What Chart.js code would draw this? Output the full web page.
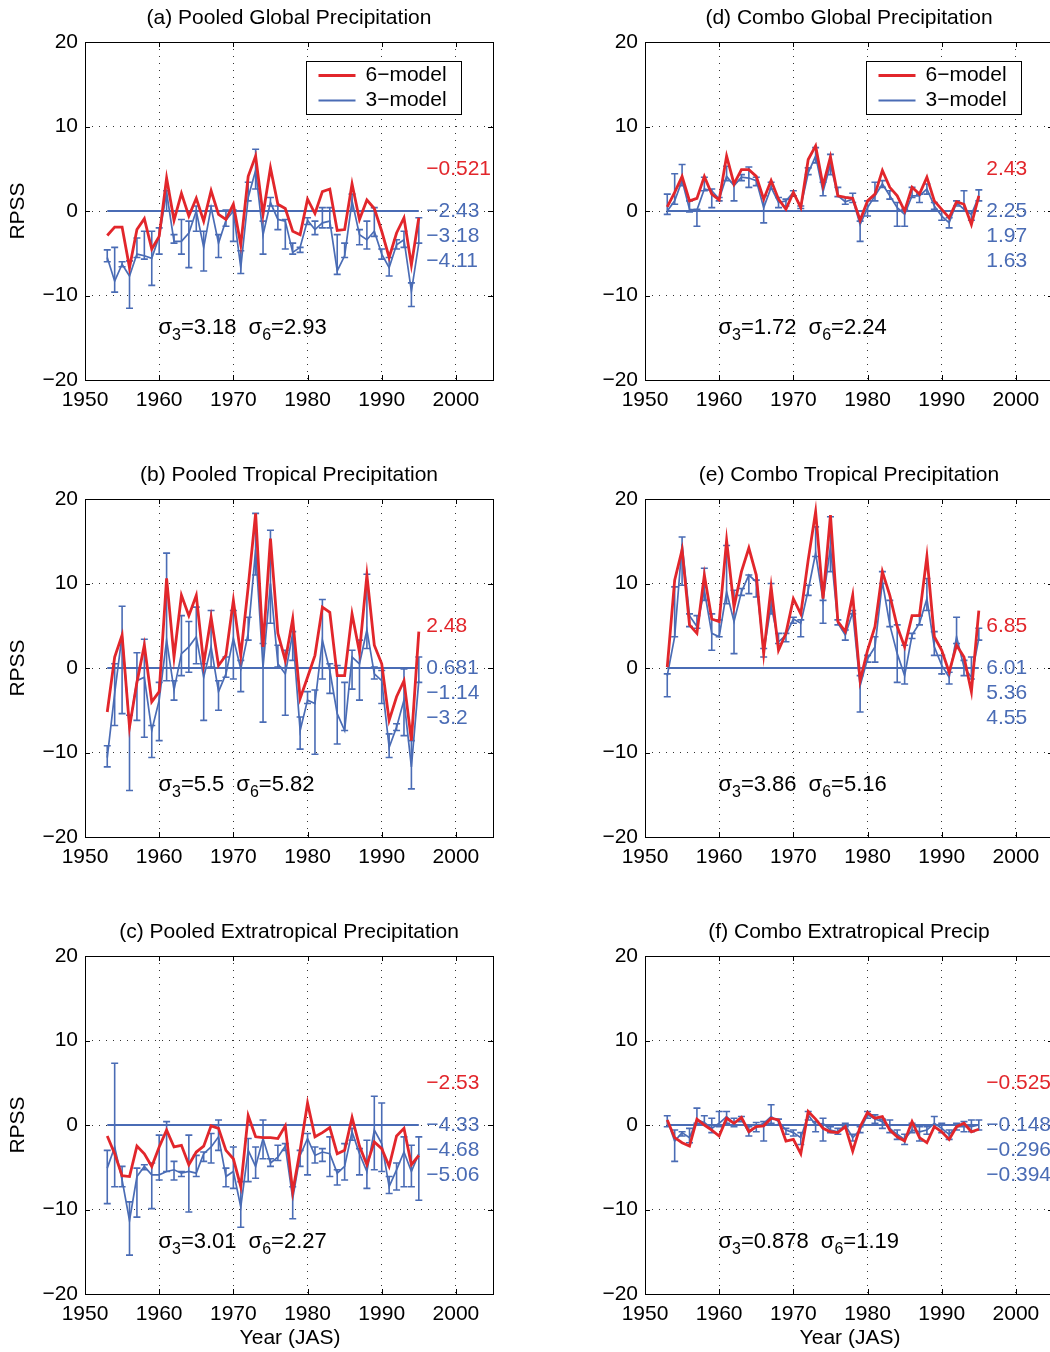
<!DOCTYPE html>
<html><head><meta charset="utf-8">
<script src="https://cdn.jsdelivr.net/npm/chart.js@4.4.0/dist/chart.umd.min.js"></script>
<style>
html,body{margin:0;padding:0;background:#fff;overflow:hidden;width:1050px;height:1352px;position:relative;}
canvas{position:absolute;}
</style></head><body>
<canvas id="ca" width="508" height="440" style="left:5px;top:0px"></canvas>
<canvas id="cb" width="508" height="440" style="left:5px;top:457px"></canvas>
<canvas id="cc" width="508" height="440" style="left:5px;top:914px"></canvas>
<canvas id="cd" width="508" height="440" style="left:565px;top:0px"></canvas>
<canvas id="ce" width="508" height="440" style="left:565px;top:457px"></canvas>
<canvas id="cf" width="508" height="440" style="left:565px;top:914px"></canvas>
<script>
// ---------- DATA ----------
const years = [1953,1954,1955,1956,1957,1958,1959,1960,1961,1962,1963,1964,1965,1966,1967,1968,1969,1970,1971,1972,1973,1974,1975,1976,1977,1978,1979,1980,1981,1982,1983,1984,1985,1986,1987,1988,1989,1990,1991,1992,1993,1994,1995];
const xTicks = [1950,1960,1970,1980,1990,2000];
const yTicks = [-20,-10,0,10,20];

// (a) Pooled Global
const aRed  = [-2.9,-1.9,-1.9,-6.7,-2.2,-0.9,-4.5,-3.0,3.9,-1.1,2.1,-0.6,1.5,-1.2,2.4,-0.4,-1.0,0.8,-4.0,4.1,6.5,-0.4,5.1,0.8,0.3,-2.4,-2.8,1.4,-0.3,2.3,2.6,-2.3,-2.2,3.2,-1.0,1.3,0.3,-2.4,-5.5,-2.6,-0.8,-6.4,-0.8];
const aBlue = [-5.5,-8.3,-6.3,-7.7,-5.1,-5.3,-5.6,-3.0,2.2,-3.6,-3.6,-2.6,0.0,-4.3,0.4,-3.8,-1.1,0.0,-6.7,1.6,4.8,-2.8,1.0,-1.0,-1.2,-4.9,-4.3,-1.1,-2.2,-1.4,-1.2,-7.1,-5.3,1.2,-2.8,-3.4,-2.4,-5.1,-6.7,-4.0,-3.4,-9.5,-3.8];
const aHi   = [-4.6,-4.3,-6.0,-5.9,-3.2,-2.4,-2.4,-2.0,2.4,-2.8,-1.0,-1.2,0.6,-2.4,0.6,-2.8,0.1,0.1,-4.7,3.4,7.3,-1.2,1.6,0.6,-1.0,-3.8,-4.3,-0.8,-1.2,0.4,0.4,-2.8,-3.8,2.0,-2.2,-1.2,0.4,-4.5,-5.5,-3.4,-2.4,-8.5,-0.8];
const aLo   = [-6.0,-9.6,-6.6,-11.5,-5.5,-5.7,-8.8,-5.1,0.0,-3.8,-5.1,-6.7,-2.4,-7.1,0.0,-5.5,-1.8,-3.6,-7.4,1.2,2.6,-5.1,0.6,-2.2,-4.5,-5.1,-4.9,-1.6,-2.8,-2.0,-2.0,-7.5,-5.5,0.0,-4.0,-4.5,-3.0,-5.7,-7.7,-4.5,-4.3,-11.3,-3.8];
const aNotes = ['\u22120.521','\u22122.43','\u22123.18','\u22124.11'];
const aSigma = ['3.18','2.93'];

// (b) Pooled Tropical
const bRed  = [-5.2,1.3,3.9,-7.0,-1.7,2.7,-4.0,-2.8,10.6,1.3,8.6,6.2,8.6,0.5,6.0,0.3,1.5,8.0,1.5,9.6,18.3,2.5,15.3,4.1,0.9,5.8,-3.6,-1.1,1.5,7.2,6.6,-0.9,-0.9,6.4,1.9,11.0,2.7,0.5,-6.2,-3.4,-1.5,-8.6,4.3];
const bBlue = [-10.6,-3.0,3.9,-7.0,-1.5,-1.1,-7.4,-3.8,3.3,-2.6,1.7,2.5,3.7,-1.1,2.5,-2.8,-0.7,3.5,-0.1,4.1,14.0,0.1,10.0,0.5,-0.7,4.1,-7.4,-3.8,-4.2,3.3,-0.3,-5.4,-7.4,1.3,0.5,4.5,-0.7,-1.5,-9.4,-7.0,-3.8,-11.7,-1.5];
const bHi   = [-9.2,0.5,7.3,-5.6,1.8,3.4,-6.8,-1.7,13.6,-1.5,6.2,5.5,7.2,0.5,6.8,-1.5,1.3,6.8,0.9,6.0,18.3,2.9,16.3,2.7,2.1,4.3,-5.8,-2.8,-2.6,8.1,0.5,0.3,-1.7,2.1,3.3,11.1,0.1,-0.3,-7.8,-6.6,-0.1,-8.6,1.3];
const bLo   = [-11.7,-6.8,-5.4,-14.5,-6.2,-8.2,-10.6,-8.6,-1.5,-3.8,-0.9,-0.5,0.5,-6.2,0.1,-5.0,-1.1,-1.3,-2.8,3.3,11.0,-6.4,5.3,0.1,-5.6,0.9,-9.6,-4.2,-10.2,-1.3,-3.0,-9.0,-7.4,-2.5,-3.8,2.3,-1.3,-4.2,-10.6,-7.4,-8.0,-14.3,-1.7];
const bNotes = ['2.48','0.681','\u22121.14','\u22123.2'];
const bSigma = ['5.5','5.82'];

// (c) Pooled Extratropical
const cRed  = [-1.3,-3.4,-6.0,-6.1,-2.5,-3.4,-4.9,-2.6,-0.6,-2.6,-2.4,-4.7,-3.2,-2.5,-0.1,-0.4,-3.0,-4.0,-7.3,1.1,-1.4,-1.5,-1.5,-1.6,-0.1,-7.9,-3.0,2.6,-1.4,-0.9,-0.3,-3.4,-3.0,0.9,-2.5,-4.7,-2.0,-2.8,-4.9,-1.3,-0.4,-4.7,-3.6];
const cBlue = [-5.1,-2.6,-6.5,-11.3,-6.1,-4.9,-5.9,-5.9,-5.5,-5.3,-5.7,-5.5,-5.7,-3.4,-2.6,-1.4,-6.1,-5.5,-9.7,-3.0,-4.9,-1.6,-4.5,-3.8,-2.5,-8.7,-3.6,-1.6,-3.6,-3.2,-3.4,-5.7,-4.9,-0.8,-3.4,-5.5,-0.6,-2.2,-7.3,-5.3,-3.2,-5.5,-3.4];
const cHi   = [-3.0,7.3,-4.9,-9.1,-5.1,-4.7,-4.5,-1.2,0.4,-4.3,-5.5,-1.2,-3.6,-3.2,-1.0,0.6,-5.1,-2.6,-6.7,-1.6,-2.6,0.6,-4.0,-2.4,-2.2,-7.3,-3.0,-1.0,-2.6,-2.8,-1.4,-5.3,-2.2,-0.4,-2.8,-1.8,3.4,2.6,-6.1,-4.5,-1.4,-2.4,-1.4];
const cLo   = [-9.3,-7.3,-7.3,-15.4,-10.9,-5.3,-9.9,-6.5,-5.5,-6.5,-6.1,-10.3,-6.1,-4.3,-4.5,-3.0,-7.3,-7.5,-12.1,-6.7,-6.3,-4.0,-4.9,-4.2,-3.0,-11.1,-4.9,-5.9,-4.5,-4.3,-6.1,-7.1,-6.5,-1.8,-5.9,-7.5,-5.3,-5.5,-8.1,-7.7,-7.3,-7.3,-8.9];
const cNotes = ['\u22122.53','\u22124.33','\u22124.68','\u22125.06'];
const cSigma = ['3.01','2.27'];

// (d) Combo Global
const dRed  = [0.5,2.2,4.1,1.2,1.5,4.1,2.0,1.3,6.5,3.2,4.9,4.9,4.1,1.4,3.6,1.4,0.2,2.2,0.4,6.1,7.7,3.0,6.4,1.8,1.6,1.5,-1.1,1.2,2.0,4.8,2.8,1.8,0.0,2.8,2.0,4.0,1.2,0.2,-0.8,1.1,0.8,-1.6,1.8];
const dBlue = [0.0,1.2,3.6,0.2,0.1,2.6,2.4,1.4,4.1,3.0,4.0,3.9,3.6,0.4,2.8,1.0,1.2,2.2,0.5,4.5,6.5,2.3,5.5,1.8,1.1,1.4,-1.6,0.4,1.8,3.2,1.8,0.4,-0.4,1.8,1.8,2.6,0.6,-0.6,-1.4,1.0,0.2,-0.4,1.7];
const dHi   = [2.0,4.4,5.5,1.2,0.2,4.0,2.6,1.6,5.3,3.4,4.3,5.2,4.0,1.8,3.4,1.6,1.4,2.4,0.6,5.1,7.5,3.4,6.7,2.8,1.6,2.1,-1.2,1.2,3.4,3.6,2.4,1.0,0.2,2.8,2.0,3.2,1.0,0.0,-0.8,1.2,2.4,0.0,2.5];
const dLo   = [-0.4,0.8,3.0,-0.1,-1.8,2.4,0.4,1.2,3.6,1.2,3.6,2.8,3.0,-1.4,2.6,0.4,0.6,1.8,0.3,4.3,5.7,1.8,4.3,1.7,0.8,1.0,-3.6,-0.6,1.2,2.8,1.4,-1.8,-1.8,1.6,1.0,2.0,0.2,-1.1,-2.0,0.6,0.0,-1.1,1.2];
const dNotes = ['2.43','2.25','1.97','1.63'];
const dSigma = ['1.72','2.24'];

// (e) Combo Tropical
const eRed  = [0.1,10.4,14.0,5.1,4.1,11.0,5.8,5.5,15.1,7.2,11.4,14.2,11.0,1.7,9.6,2.1,4.1,8.2,6.4,12.8,18.5,8.2,18.1,5.5,4.3,8.6,-1.5,2.1,4.9,11.4,8.6,4.9,2.5,6.2,6.2,13.2,3.7,2.1,-0.5,2.7,1.3,-2.8,6.8];
const eBlue = [-0.9,3.7,14.7,6.2,4.9,9.2,4.1,3.7,9.0,5.5,9.0,11.0,10.2,1.9,7.4,3.1,3.9,5.8,5.3,9.2,13.6,8.0,14.3,5.3,3.9,6.6,-2.1,1.1,2.5,10.2,5.1,1.7,-0.9,3.9,5.3,8.2,2.5,0.3,-1.1,3.7,0.1,-1.1,3.5];
const eHi   = [-0.7,9.6,15.5,6.4,6.2,11.8,6.4,5.7,14.5,9.2,9.4,11.0,10.4,2.3,10.0,4.1,4.1,6.0,5.7,9.8,16.7,8.0,17.9,5.7,4.5,6.8,-0.9,1.5,3.7,11.4,8.0,5.1,2.7,4.1,6.2,10.6,4.3,1.5,-0.5,6.0,0.9,1.3,4.7];
const eLo   = [-3.4,3.7,9.8,4.9,4.7,8.0,2.1,3.7,7.6,1.7,8.6,8.8,8.4,1.3,6.4,2.9,3.1,5.3,3.7,8.6,13.2,5.3,11.4,5.1,3.3,6.4,-5.2,0.7,0.7,10.0,4.9,-1.7,-1.9,3.5,5.1,6.8,1.5,-0.7,-1.9,2.9,-0.9,-1.3,3.3];
const eNotes = ['6.85','6.01','5.36','4.55'];
const eSigma = ['3.86','5.16'];

// (f) Combo Extratropical
const fRed  = [0.6,-1.5,-2.1,-2.5,0.7,0.0,-0.6,-1.3,0.8,0.2,0.9,-0.8,-0.2,-0.1,0.8,0.6,-1.9,-1.7,-3.4,1.6,0.7,-0.4,-0.8,-0.9,-0.2,-3.1,-0.2,1.5,0.8,1.0,-0.6,-1.4,-1.9,0.4,-1.5,-2.1,-0.2,-0.8,-1.7,-0.2,0.2,-0.8,-0.5];
const fBlue = [0.6,-1.9,-0.9,-1.5,0.6,0.3,-0.4,0.2,1.0,0.2,0.7,-0.9,-0.2,0.2,1.0,0.4,-0.6,-0.9,-1.5,1.2,0.0,0.2,-0.6,-0.8,0.0,-1.5,-0.6,1.2,0.7,0.4,-0.4,-1.1,-1.7,-0.6,-0.8,-0.6,0.2,-0.4,-1.1,-0.2,-0.2,-0.2,0.0];
const fHi   = [1.1,-0.6,-0.8,-0.4,2.0,1.1,0.8,1.6,1.6,0.8,1.0,-0.2,0.3,0.4,2.4,0.7,-0.4,-0.6,-0.9,1.6,0.4,0.8,-0.2,-0.4,0.2,-1.1,-0.2,1.6,1.2,0.7,0.6,-0.6,-1.1,0.2,-0.2,-0.2,1.0,0.2,-0.6,0.2,0.4,0.6,0.6];
const fLo   = [-0.2,-4.3,-1.3,-2.1,0.2,0.0,-0.9,-0.2,0.2,-0.2,0.4,-1.3,-0.8,-1.9,0.2,0.0,-1.1,-1.3,-2.3,0.6,-0.8,-1.9,-0.9,-1.1,-0.2,-1.9,-0.9,0.8,0.2,-0.4,-0.9,-1.7,-2.3,-0.9,-1.9,-1.1,0.0,-0.9,-1.7,-0.6,-0.8,-0.8,-0.6];
const fNotes = ['\u22120.525','\u22120.148','\u22120.296','\u22120.394'];
const fSigma = ['0.878','1.19'];

// ---------- STYLE ----------
const RED = '#e2262b', BLUE = '#4a6cb5';
const FONT = '"Liberation Sans", Arial, Helvetica, sans-serif';
const FS = 21;

function fmtY(v){ return v < 0 ? '\u2212' + Math.abs(v) : String(v); }

const deco = {
  id: 'deco',
  afterDatasetDraw(chart, args) {
    if (args.index !== 1) return;
    const p = chart.config.options.plugins.deco;
    const ctx = chart.ctx, xs = chart.scales.x, ys = chart.scales.y;
    ctx.save();
    ctx.strokeStyle = BLUE; ctx.lineWidth = 1.6;
    years.forEach((yr, i) => {
      const x = xs.getPixelForValue(yr);
      const y1 = ys.getPixelForValue(p.hi[i]), y2 = ys.getPixelForValue(p.lo[i]);
      ctx.beginPath();
      ctx.moveTo(x, y1); ctx.lineTo(x, y2);
      ctx.moveTo(x - 3.5, y1); ctx.lineTo(x + 3.5, y1);
      ctx.moveTo(x - 3.5, y2); ctx.lineTo(x + 3.5, y2);
      ctx.stroke();
    });
    ctx.restore();
  },
  afterDraw(chart) {
    const p = chart.config.options.plugins.deco;
    const ctx = chart.ctx, ca = chart.chartArea, xs = chart.scales.x, ys = chart.scales.y;
    ctx.save();
    // frame
    ctx.strokeStyle = '#000'; ctx.lineWidth = 1;
    ctx.strokeRect(Math.round(ca.left) + 0.5, Math.round(ca.top) + 0.5, Math.round(ca.right - ca.left), Math.round(ca.bottom - ca.top));
    // inward ticks
    ctx.beginPath();
    xTicks.forEach(v => { const x = Math.round(xs.getPixelForValue(v)) + 0.5;
      ctx.moveTo(x, ca.bottom); ctx.lineTo(x, ca.bottom - 5);
      ctx.moveTo(x, ca.top); ctx.lineTo(x, ca.top + 5); });
    yTicks.forEach(v => { const y = Math.round(ys.getPixelForValue(v)) + 0.5;
      ctx.moveTo(ca.left, y); ctx.lineTo(ca.left + 5, y);
      ctx.moveTo(ca.right, y); ctx.lineTo(ca.right - 5, y); });
    ctx.stroke();
    ctx.fillStyle = '#000';
    ctx.font = `${FS}px ${FONT}`;
    ctx.textAlign = 'center'; ctx.textBaseline = 'middle';
    // title
    ctx.fillText(p.title, (ca.left + ca.right) / 2, ca.top - 24);
    if (p.ylabel) {
      ctx.save(); ctx.translate(13, (ca.top + ca.bottom) / 2); ctx.rotate(-Math.PI / 2);
      ctx.fillText('RPSS', 0, 0); ctx.restore();
    }
    if (p.xlabel) ctx.fillText('Year (JAS)', (ca.left + ca.right) / 2 + 1, ca.bottom + 44);
    // notes
    ctx.textAlign = 'left';
    const noteY = [5, 0, -3, -6];
    p.notes.forEach((t, i) => {
      ctx.fillStyle = i === 0 ? RED : BLUE;
      ctx.fillText(t, xs.getPixelForValue(1996), ys.getPixelForValue(noteY[i]));
    });
    // sigma text
    ctx.fillStyle = '#000';
    let cx = xs.getPixelForValue(1959.9);
    const sy = ys.getPixelForValue(-13.8);
    const big = `22px ${FONT}`, small = `16px ${FONT}`;
    [['3', p.sigma[0]], ['6', p.sigma[1]]].forEach((s, k) => {
      ctx.font = big; ctx.fillText('\u03c3', cx, sy); cx += ctx.measureText('\u03c3').width;
      ctx.font = small; ctx.fillText(s[0], cx, sy + 8); cx += ctx.measureText(s[0]).width;
      ctx.font = big; const t = '=' + s[1]; ctx.fillText(t, cx, sy); cx += ctx.measureText(t).width + 12;
    });
    // legend
    if (p.legend) {
      const bx = Math.round(ca.left + 221) + 0.5, by = Math.round(ca.top + 19) + 0.5, bw = 155, bh = 53;
      ctx.fillStyle = '#fff'; ctx.fillRect(bx, by, bw, bh);
      ctx.strokeStyle = '#000'; ctx.lineWidth = 1; ctx.strokeRect(bx, by, bw, bh);
      ctx.lineWidth = 2.8; ctx.strokeStyle = RED;
      ctx.beginPath(); ctx.moveTo(bx + 12, by + 14); ctx.lineTo(bx + 49, by + 14); ctx.stroke();
      ctx.lineWidth = 1.8; ctx.strokeStyle = BLUE;
      ctx.beginPath(); ctx.moveTo(bx + 12, by + 39); ctx.lineTo(bx + 49, by + 39); ctx.stroke();
      ctx.fillStyle = '#000'; ctx.font = `${FS}px ${FONT}`;
      ctx.fillText('6\u2212model', bx + 59, by + 14);
      ctx.fillText('3\u2212model', bx + 59, by + 39);
    }
    ctx.restore();
  }
};

function panel(id, title, red, blue, hi, lo, notes, sigma, opts) {
  const pts = arr => years.map((y, i) => ({ x: y, y: arr[i] }));
  new Chart(document.getElementById(id), {
    type: 'line',
    data: { datasets: [
      { label: '6-model', data: pts(red), borderColor: RED, borderWidth: 2.8, pointRadius: 0, tension: 0, order: 0 },
      { label: '3-model', data: pts(blue), borderColor: BLUE, borderWidth: 1.7, pointRadius: 0, tension: 0, order: 1 },
      { label: 'zero', data: [{ x: years[0], y: 0 }, { x: years[years.length - 1], y: 0 }], borderColor: BLUE, borderWidth: 1.8, pointRadius: 0, order: 2 }
    ]},
    options: {
      responsive: false, animation: false, devicePixelRatio: 1,
      layout: { padding: { top: 42, right: 20, left: 0, bottom: 0 } },
      plugins: {
        legend: { display: false }, tooltip: { enabled: false }, title: { display: false },
        deco: { title, hi, lo, notes, sigma, legend: opts.legend, ylabel: opts.ylabel, xlabel: opts.xlabel }
      },
      scales: {
        x: {
          type: 'linear', min: 1950, max: 2005,
          afterBuildTicks: s => { s.ticks = xTicks.map(v => ({ value: v })); },
          afterFit: s => { s.height = 60; },
          grid: { color: '#333', lineWidth: 1, drawTicks: false },
          border: { display: false, dash: [1, 6] },
          ticks: { padding: 8, color: '#000', font: { family: FONT, size: FS }, maxRotation: 0, autoSkip: false, callback: v => String(v) }
        },
        y: {
          type: 'linear', min: -20, max: 20,
          afterBuildTicks: s => { s.ticks = yTicks.map(v => ({ value: v })); },
          afterFit: s => { s.width = 80; },
          grid: { color: '#333', lineWidth: 1, drawTicks: false },
          border: { display: false, dash: [1, 6] },
          ticks: { padding: 7, color: '#000', font: { family: FONT, size: FS }, callback: v => fmtY(v) }
        }
      }
    },
    plugins: [deco]
  });
}

panel('ca', '(a) Pooled Global Precipitation', aRed, aBlue, aHi, aLo, aNotes, aSigma, { legend: true, ylabel: true, xlabel: false });
panel('cb', '(b) Pooled Tropical Precipitation', bRed, bBlue, bHi, bLo, bNotes, bSigma, { legend: false, ylabel: true, xlabel: false });
panel('cc', '(c) Pooled Extratropical Precipitation', cRed, cBlue, cHi, cLo, cNotes, cSigma, { legend: false, ylabel: true, xlabel: true });
panel('cd', '(d) Combo Global Precipitation', dRed, dBlue, dHi, dLo, dNotes, dSigma, { legend: true, ylabel: false, xlabel: false });
panel('ce', '(e) Combo Tropical Precipitation', eRed, eBlue, eHi, eLo, eNotes, eSigma, { legend: false, ylabel: false, xlabel: false });
panel('cf', '(f) Combo Extratropical Precip', fRed, fBlue, fHi, fLo, fNotes, fSigma, { legend: false, ylabel: false, xlabel: true });
</script>
</body></html>
